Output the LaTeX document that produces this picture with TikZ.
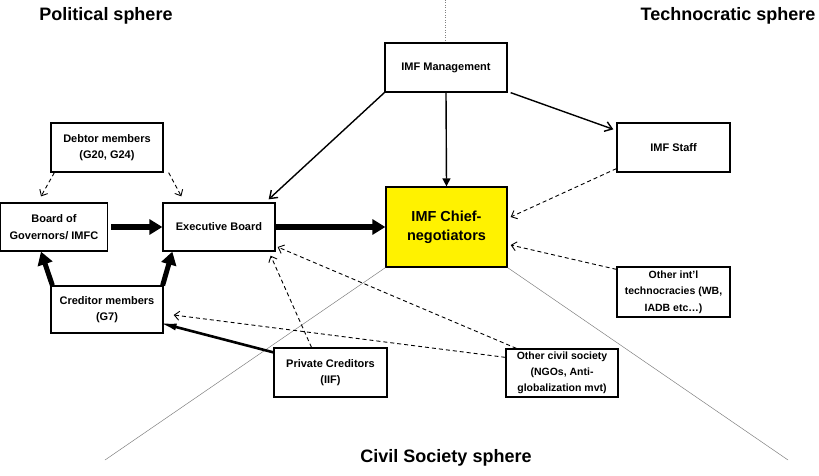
\documentclass[tikz,border=0pt]{standalone}
\usepackage{fontspec}
\setmainfont{Liberation Sans}
\usetikzlibrary{arrows.meta}
\begin{document}
\begin{tikzpicture}[x=1pt,y=-1pt,
  box/.style={draw=black,line width=1.3pt,fill=white,align=center,inner sep=1pt,font=\fontsize{11}{16.5}\selectfont\bfseries},
  title/.style={font=\fontsize{18}{21}\selectfont\bfseries,inner sep=0pt},
  thick arrow/.style={line width=5.5pt,-{Triangle[length=13pt,width=15pt]}},
  mid arrow/.style={line width=1.4pt,-{Straight Barb[length=7pt,width=10pt,line width=1.4pt]}},
  dash arrow/.style={line width=0.9pt,dash pattern=on 4pt off 3pt,-{Straight Barb[length=5pt,width=9pt,line width=0.9pt]}},
  sphere line/.style={draw=gray,line width=0.5pt}]
\useasboundingbox (0,0) rectangle (819,476);
% sphere separators
\coordinate (topc) at (445,0);
\coordinate (blc) at (105,460);
\coordinate (brc) at (788,460);
% nodes
\node[box,minimum width=122pt,minimum height=49pt] (mgmt) at (446,67.5) {IMF Management};
\node[box,minimum width=113pt,minimum height=49pt] (staff) at (673.5,147.5) {IMF Staff};
\node[box,minimum width=112pt,minimum height=49pt] (debtor) at (107,147.5) {Debtor members\\(G20, G24)};
\node[box,minimum width=107pt,minimum height=48pt] (bog) at (54,227) {Board of\\Governors/ IMFC};
\node[box,minimum width=112pt,minimum height=48pt] (exec) at (219,227) {Executive Board};
\node[box,fill=yellow,minimum width=121pt,minimum height=80pt,font=\fontsize{14.5}{19}\selectfont\bfseries] (chief) at (446.5,227) {IMF Chief-\\negotiators};
\node[box,minimum width=112pt,minimum height=47pt] (cred) at (107,309.5) {Creditor members\\(G7)};
\node[box,minimum width=113pt,minimum height=49pt] (priv) at (330.5,372.5) {Private Creditors\\(IIF)};
\node[box,minimum width=112pt,minimum height=48pt,inner sep=0pt,font=\fontsize{10.5}{16}\selectfont\bfseries] (civil) at (562,373) {Other civil society\\(NGOs, Anti-\\globalization mvt)};
\node[box,minimum width=113pt,minimum height=50pt,inner sep=0pt,font=\fontsize{10.5}{16.5}\selectfont\bfseries] (intl) at (673.5,292) {Other int'l\\technocracies (WB,\\IADB etc\dots)};
% titles
\node[title] (tpol) at (106,16) {Political sphere};
\node[title] (ttech) at (728,16) {Technocratic sphere};
\node[title] (tciv) at (446,458) {Civil Society sphere};
% separators
\draw[sphere line,dotted] (topc) -- (mgmt.north -| topc);
\draw[sphere line] (chief.south west) -- (blc);
\draw[sphere line] (chief.south east) -- (brc);
% connectors
\draw[mid arrow] (mgmt.south west) -- ([xshift=-7pt,yshift=3pt]exec.north east);
\draw[line width=1.4pt,-{Triangle[length=8pt,width=8pt]}] (mgmt.south) -- (chief.north);
\draw[mid arrow] ([xshift=3pt]mgmt.south east) -- ([xshift=-3pt,yshift=-7pt]staff.north west);
\draw[dash arrow] ([yshift=4pt]staff.south west) -- ([xshift=3pt,yshift=10pt]chief.east);
\draw[dash arrow] ([yshift=-3pt]intl.north west) -- ([xshift=3pt,yshift=-18pt]chief.east);
\draw[dash arrow] ([xshift=4pt]debtor.south west) -- ([xshift=-13pt,yshift=6pt]bog.north);
\draw[dash arrow] ([xshift=5pt]debtor.south east) -- ([xshift=19pt,yshift=6pt]exec.north west);
\draw[thick arrow] ([xshift=3pt]bog.east) -- (exec.west);
\draw[thick arrow] (exec.east) -- (chief.west);
\draw[thick arrow,line width=5pt] ([xshift=2pt]cred.north west) -- ([xshift=-13pt]bog.south);
\draw[thick arrow,line width=5pt] ([xshift=-1pt]cred.north east) -- ([xshift=10pt]exec.south west);
\draw[line width=2.6pt,-{Latex[length=18pt,width=7pt]}] ([yshift=-5pt]priv.north west) -- ([xshift=-5pt,yshift=-13pt]cred.east);
\draw[dash arrow] ([xshift=-19pt]priv.north) -- ([xshift=-5pt,yshift=-4pt]exec.south east);
\draw[dash arrow] ([xshift=11pt]civil.north west) -- ([xshift=2pt,yshift=-20pt]exec.east);
\draw[dash arrow] ([yshift=-9pt]civil.north west) -- ([xshift=10pt,yshift=-5.5pt]cred.east);
\end{tikzpicture}
\end{document}
